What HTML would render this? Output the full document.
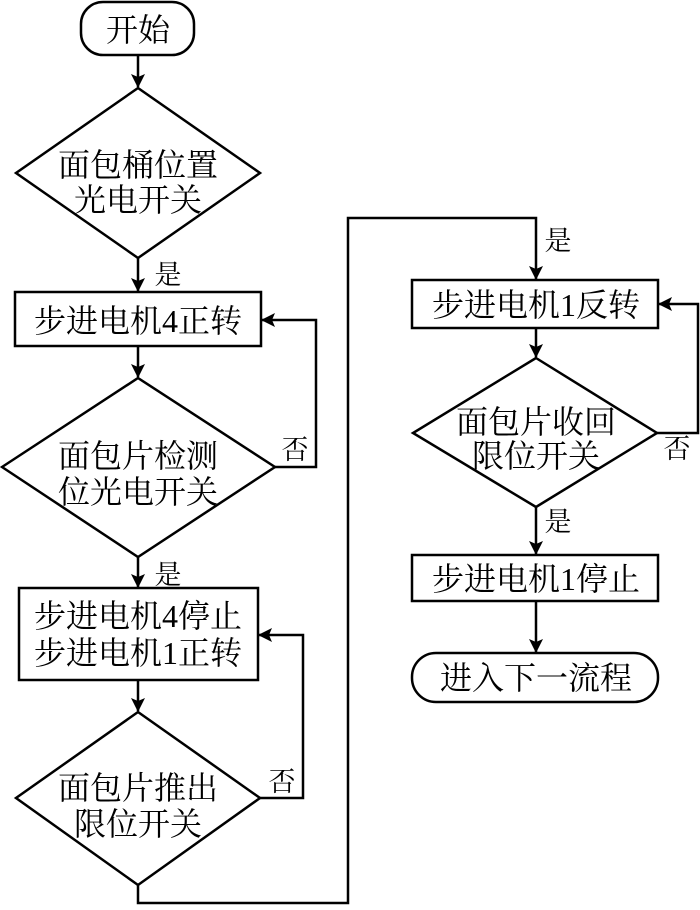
<!DOCTYPE html>
<html><head><meta charset="utf-8"><style>
html,body{margin:0;padding:0;background:#fff}
svg text{font-family:"Liberation Serif","Noto Serif CJK SC",serif;fill:#000}
</style></head><body>
<svg width="700" height="905" viewBox="0 0 700 905" xmlns="http://www.w3.org/2000/svg">
<defs><marker id="a" markerWidth="14" markerHeight="14" refX="13" refY="7" orient="auto" markerUnits="userSpaceOnUse"><path d="M0,0 L14,7 L0,14 L3,7 Z" fill="#000"/></marker></defs>
<g fill="none" stroke="#000" stroke-width="2.5">
<rect x="81" y="2" width="113" height="53" rx="22"/>
<line x1="138" y1="55" x2="138" y2="87" marker-end="url(#a)"/>
<polygon points="138,88 260,173 138,258 16,173"/>
<line x1="138" y1="258" x2="138" y2="291" marker-end="url(#a)"/>
<rect x="15" y="292" width="246" height="54"/>
<line x1="138" y1="346" x2="138" y2="377" marker-end="url(#a)"/>
<polygon points="138,378 275,467 138,557 2,467"/>
<polyline points="275,467 316,467 316,320 262,320" marker-end="url(#a)"/>
<line x1="138" y1="557" x2="138" y2="587" marker-end="url(#a)"/>
<rect x="19" y="588" width="239" height="92"/>
<line x1="138" y1="680" x2="138" y2="711" marker-end="url(#a)"/>
<polygon points="138,712 260,798 138,885 16,798"/>
<polyline points="260,798 303,798 303,635 259,635" marker-end="url(#a)"/>
<polyline points="138,885 138,903 348,903 348,218 536,218 536,279" marker-end="url(#a)"/>
<rect x="412" y="280" width="246" height="48"/>
<line x1="536" y1="328" x2="536" y2="357" marker-end="url(#a)"/>
<polygon points="536,358 657,433 536,507 413,433"/>
<polyline points="657,433 698,433 698,304 659,304" marker-end="url(#a)"/>
<line x1="536" y1="507" x2="536" y2="554" marker-end="url(#a)"/>
<rect x="412" y="555" width="246" height="46"/>
<line x1="536" y1="601" x2="536" y2="652" marker-end="url(#a)"/>
<rect x="412" y="653" width="246" height="49" rx="24"/>
</g>
<g font-size="32" text-anchor="middle">
<text x="138" y="41">开始</text>
<text x="138" y="176">面包桶位置</text>
<text x="138" y="211">光电开关</text>
<text x="138" y="332">步进电机4正转</text>
<text x="138" y="467">面包片检测</text>
<text x="138" y="503">位光电开关</text>
<text x="138" y="627">步进电机4停止</text>
<text x="138" y="664">步进电机1正转</text>
<text x="138" y="799">面包片推出</text>
<text x="138" y="835">限位开关</text>
<text x="536" y="316">步进电机1反转</text>
<text x="536" y="433">面包片收回</text>
<text x="536" y="467">限位开关</text>
<text x="536" y="590">步进电机1停止</text>
<text x="536" y="689">进入下一流程</text>
</g>
<g font-size="27" text-anchor="middle">
<text x="168" y="284">是</text>
<text x="295" y="459">否</text>
<text x="168" y="584">是</text>
<text x="282" y="791">否</text>
<text x="558" y="250">是</text>
<text x="677" y="458">否</text>
<text x="558" y="531">是</text>
</g>
</svg>
</body></html>
